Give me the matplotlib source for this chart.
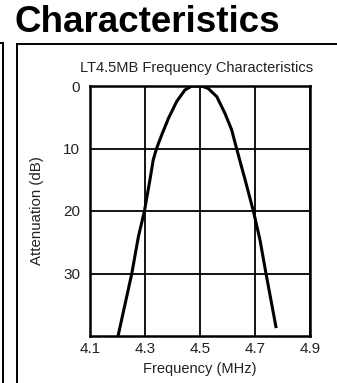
import matplotlib
matplotlib.use("Agg")
import matplotlib.pyplot as plt
from matplotlib.lines import Line2D

W, H = 337, 383
DPI = 100

# filter response
freq = [4.203, 4.252, 4.276, 4.298, 4.318, 4.330, 4.342, 4.361, 4.385, 4.415,
        4.445, 4.470, 4.506, 4.530, 4.561, 4.591, 4.615, 4.633, 4.654, 4.664,
        4.694, 4.718, 4.740, 4.776]
atten = [39.8, 30.0, 24.1, 20.0, 15.0, 11.8, 10.0, 7.8, 5.2, 2.5,
         0.64, 0.0, 0.0, 0.4, 1.7, 4.4, 7.0, 10.0, 13.4, 15.0,
         20.0, 24.6, 30.0, 38.5]

xticks = [4.1, 4.3, 4.5, 4.7, 4.9]
yticks = [0, 10, 20, 30]

plt.rcParams['font.family'] = ['Liberation Sans', 'DejaVu Sans']

fig = plt.figure(figsize=(W / DPI, H / DPI), dpi=DPI)


def px(x, y):
    return x / W, 1 - y / H


# page frame lines
for (x0, y0), (x1, y1) in [((3, 43), (3, H)), ((0, 43), (3, 43)),
                           ((17, 44), (17, H)), ((17, 44), (W, 44))]:
    a, b = px(x0, y0)
    c, d = px(x1, y1)
    fig.add_artist(Line2D([a, c], [b, d], color='black', lw=1.4))

hx, hy = px(15, 32)
fig.text(hx, hy, 'Characteristics', fontsize=26.5, fontweight='bold',
         ha='left', va='baseline')

tx, ty = px(197, 68)
fig.text(tx, ty, 'LT4.5MB Frequency Characteristics', fontsize=10.5,
         ha='center', va='center', color='#222222')

left, right, top, bottom = 90, 310, 86, 336
ax = fig.add_axes([left / W, 1 - bottom / H, (right - left) / W, (bottom - top) / H])

ax.plot(freq, atten, color='black', lw=2.2, solid_joinstyle='round')

ax.set_xlim(4.1, 4.9)
ax.set_ylim(40, 0)
ax.set_xticks(xticks)
ax.set_xticklabels([f'{v:.1f}' for v in xticks])
ax.set_yticks(yticks)
ax.grid(True, color='black', lw=1.3)
ax.tick_params(length=0, labelsize=11, labelcolor='#222222')
ax.tick_params(axis='x', pad=4)
ax.tick_params(axis='y', pad=7)
for s in ax.spines.values():
    s.set_linewidth(1.8)

ax.set_xlabel('Frequency (MHz)', fontsize=10.5, color='#222222', labelpad=5)
ax.set_ylabel('Attenuation (dB)', fontsize=10.8, color='#222222', labelpad=14)

fig.savefig('out.png', dpi=DPI)
